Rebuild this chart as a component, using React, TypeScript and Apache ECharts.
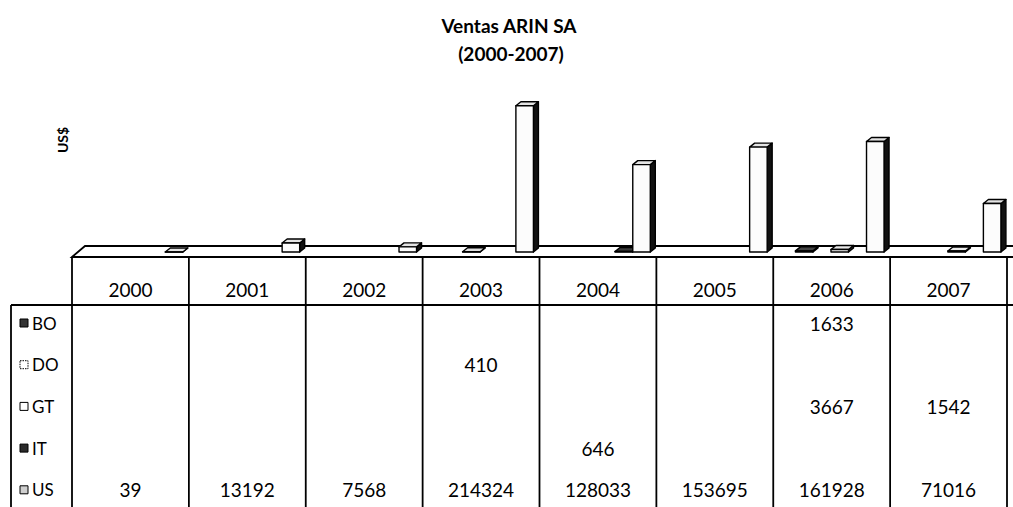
import { useEffect, useRef } from "react";
import * as echarts from "echarts";

// Ventas ARIN SA, 2000-2007, by country (US$)
const years = ["2000", "2001", "2002", "2003", "2004", "2005", "2006", "2007"];
const countries = ["BO", "DO", "GT", "IT", "US"];
const ventasBO: (number | null)[] = [null, null, null, null, null, null, 1633, null];
const ventasDO: (number | null)[] = [null, null, null, 410, null, null, null, null];
const ventasGT: (number | null)[] = [null, null, null, null, null, null, 3667, 1542];
const ventasIT: (number | null)[] = [null, null, null, null, 646, null, null, null];
const ventasUS: (number | null)[] = [39, 13192, 7568, 214324, 128033, 153695, 161928, 71016];
const valueMax = 230000;

const rows = [ventasBO, ventasDO, ventasGT, ventasIT, ventasUS];

// layout
const W = 1013;
const H = 507;
const GRID = { left: 72, right: 6, top: 95, bottom: 255 };
const DX = 5; // bar depth, horizontal
const DY = 4; // bar depth, vertical
const FLOOR_FRONT = 5;
const FLOOR_BACK = 6;
const FLOOR_SLANT = 13;
const TABLE_TOP = 257;
const HEADER_LINE = 305;
const TABLE_BOTTOM = H + 4;
const LABEL_LEFT = 11;
const ROW_Y0 = 323;
const ROW_STEP = 41.7;
const BAR_W = 0.15; // fraction of the category band
const OFFSET0 = -0.235;
const STEP = 0.152;
const FONT = "Lato, 'Open Sans', sans-serif";

const faces = [
  { front: "#262626", top: "#454545", side: "#000000", key: "#333333" },
  { front: "#f4f4f4", top: "#dedede", side: "#2a2a2a", key: "#ffffff" },
  { front: "#ffffff", top: "#eaeaea", side: "#2a2a2a", key: "#ffffff" },
  { front: "#1e1e1e", top: "#3a3a3a", side: "#000000", key: "#2a2a2a" },
  { front: "#fcfcfc", top: "#e4e4e4", side: "#111111", key: "#cfcfcf" },
];

const outline = { stroke: "#000", lineWidth: 1.4, lineJoin: "round" as const };

function barRenderer(idx: number) {
  return (_params: any, api: any) => {
    const cat = api.value(0);
    const v = api.value(1);
    const band = api.size([1, 0])[0];
    const [cx, yTop] = api.coord([cat, v]);
    const yBase = api.coord([cat, 0])[1];
    const w = band * BAR_W;
    const x0 = cx + band * (OFFSET0 + idx * STEP) - w / 2;
    const x1 = x0 + w;
    const f = faces[idx];
    return {
      type: "group",
      children: [
        {
          type: "polygon",
          shape: { points: [[x1, yTop], [x1 + DX, yTop - DY], [x1 + DX, yBase - DY], [x1, yBase]] },
          style: { fill: f.side, ...outline },
        },
        {
          type: "polygon",
          shape: { points: [[x0, yTop], [x0 + DX, yTop - DY], [x1 + DX, yTop - DY], [x1, yTop]] },
          style: { fill: f.top, ...outline },
        },
        {
          type: "rect",
          shape: { x: x0, y: yTop, width: w, height: yBase - yTop },
          style: { fill: f.front, ...outline },
        },
      ],
    };
  };
}

function floorRenderer(params: any, api: any) {
  const cs = params.coordSys;
  const yBase = api.coord([0, 0])[1];
  const left = cs.x;
  const right = cs.x + cs.width + 40;
  return {
    type: "polygon",
    shape: {
      points: [
        [left, yBase + FLOOR_FRONT],
        [left + FLOOR_SLANT, yBase - FLOOR_BACK],
        [right, yBase - FLOOR_BACK],
        [right, yBase + FLOOR_FRONT],
      ],
    },
    style: { fill: "#fff", stroke: "#000", lineWidth: 1.8 },
  };
}

function tableRenderer(params: any, api: any) {
  const cat = api.value(0);
  const band = api.size([1, 0])[0];
  const cx = api.coord([cat, 0])[0];
  const xl = cx - band / 2;
  const children: any[] = [
    {
      type: "line",
      shape: { x1: xl, y1: TABLE_TOP, x2: xl, y2: TABLE_BOTTOM },
      style: { stroke: "#000", lineWidth: 1.8 },
    },
  ];
  if (cat === years.length - 1) {
    children.push({
      type: "line",
      shape: { x1: xl + band, y1: TABLE_TOP, x2: xl + band, y2: TABLE_BOTTOM },
      style: { stroke: "#000", lineWidth: 1.8 },
    });
  }
  rows.forEach((row, r) => {
    const v = row[cat];
    if (v == null) return;
    children.push({
      type: "text",
      style: {
        text: String(v),
        x: cx,
        y: ROW_Y0 + r * ROW_STEP,
        align: "center",
        verticalAlign: "middle",
        fontSize: 19,
        fontFamily: FONT,
        fill: "#000",
      },
    });
  });
  return { type: "group", children };
}

export default function App() {
  const ref = useRef<HTMLDivElement>(null);

  useEffect(() => {
    if (!ref.current) return;
    const chart = echarts.init(ref.current, null, { renderer: "svg" });

    const barSeries = rows.map((row, idx) => ({
      type: "custom",
      name: countries[idx],
      renderItem: barRenderer(idx),
      data: row
        .map((v, i) => (v == null ? null : [i, v]))
        .filter((d) => d !== null),
      encode: { x: 0, y: 1 },
      z: 3,
      silent: true,
    }));

    const legendGraphics: any[] = [];
    countries.forEach((name, r) => {
      const y = ROW_Y0 + r * ROW_STEP;
      legendGraphics.push({
        type: "rect",
        shape: { x: 20, y: y - 4, width: 8, height: 8 },
        style: {
          fill: faces[r].key,
          stroke: "#000",
          lineWidth: 1,
          lineDash: r === 1 ? [1.5, 1] : undefined,
        },
      });
      legendGraphics.push({
        type: "text",
        style: {
          text: name,
          x: 32,
          y,
          align: "left",
          verticalAlign: "middle",
          fontSize: 17,
          fontFamily: FONT,
          fill: "#000",
        },
      });
    });

    chart.setOption({
      animation: false,
      backgroundColor: "#fff",
      grid: { ...GRID },
      xAxis: {
        type: "category",
        data: years,
        axisLine: { show: false },
        axisTick: { show: false },
        splitLine: { show: false },
        axisLabel: {
          interval: 0,
          margin: 37,
          verticalAlign: "middle",
          fontSize: 19,
          fontFamily: FONT,
          color: "#000",
        },
      },
      yAxis: {
        type: "value",
        min: 0,
        max: valueMax,
        show: false,
      },
      series: [
        {
          type: "custom",
          renderItem: floorRenderer,
          data: [[0, 0]],
          encode: { x: 0, y: 1 },
          z: 1,
          silent: true,
        },
        ...barSeries,
        {
          type: "custom",
          renderItem: tableRenderer,
          data: years.map((_, i) => [i, 0]),
          encode: { x: 0, y: 1 },
          z: 4,
          silent: true,
        },
      ],
      graphic: [
        {
          type: "text",
          style: {
            text: "Ventas ARIN SA",
            x: 509,
            y: 25,
            align: "center",
            verticalAlign: "middle",
            fontSize: 19,
            fontWeight: "bold",
            fontFamily: FONT,
            fill: "#000",
          },
        },
        {
          type: "text",
          style: {
            text: "(2000-2007)",
            x: 511,
            y: 53,
            align: "center",
            verticalAlign: "middle",
            fontSize: 19,
            fontWeight: "bold",
            fontFamily: FONT,
            fill: "#000",
          },
        },
        {
          type: "text",
          x: 62,
          y: 140,
          rotation: Math.PI / 2,
          style: {
            text: "US$",
            x: 0,
            y: 0,
            align: "center",
            verticalAlign: "middle",
            fontSize: 14,
            fontWeight: "bold",
            fontFamily: FONT,
            fill: "#000",
          },
        },
        {
          type: "line",
          shape: { x1: LABEL_LEFT, y1: HEADER_LINE, x2: W + 5, y2: HEADER_LINE },
          style: { stroke: "#000", lineWidth: 1.8 },
        },
        {
          type: "line",
          shape: { x1: LABEL_LEFT, y1: HEADER_LINE, x2: LABEL_LEFT, y2: TABLE_BOTTOM },
          style: { stroke: "#000", lineWidth: 1.8 },
        },
        ...legendGraphics,
      ],
    });

    return () => chart.dispose();
  }, []);

  return (
    <div
      ref={ref}
      style={{ position: "fixed", left: 0, top: 0, width: W, height: H, background: "#fff" }}
    />
  );
}
